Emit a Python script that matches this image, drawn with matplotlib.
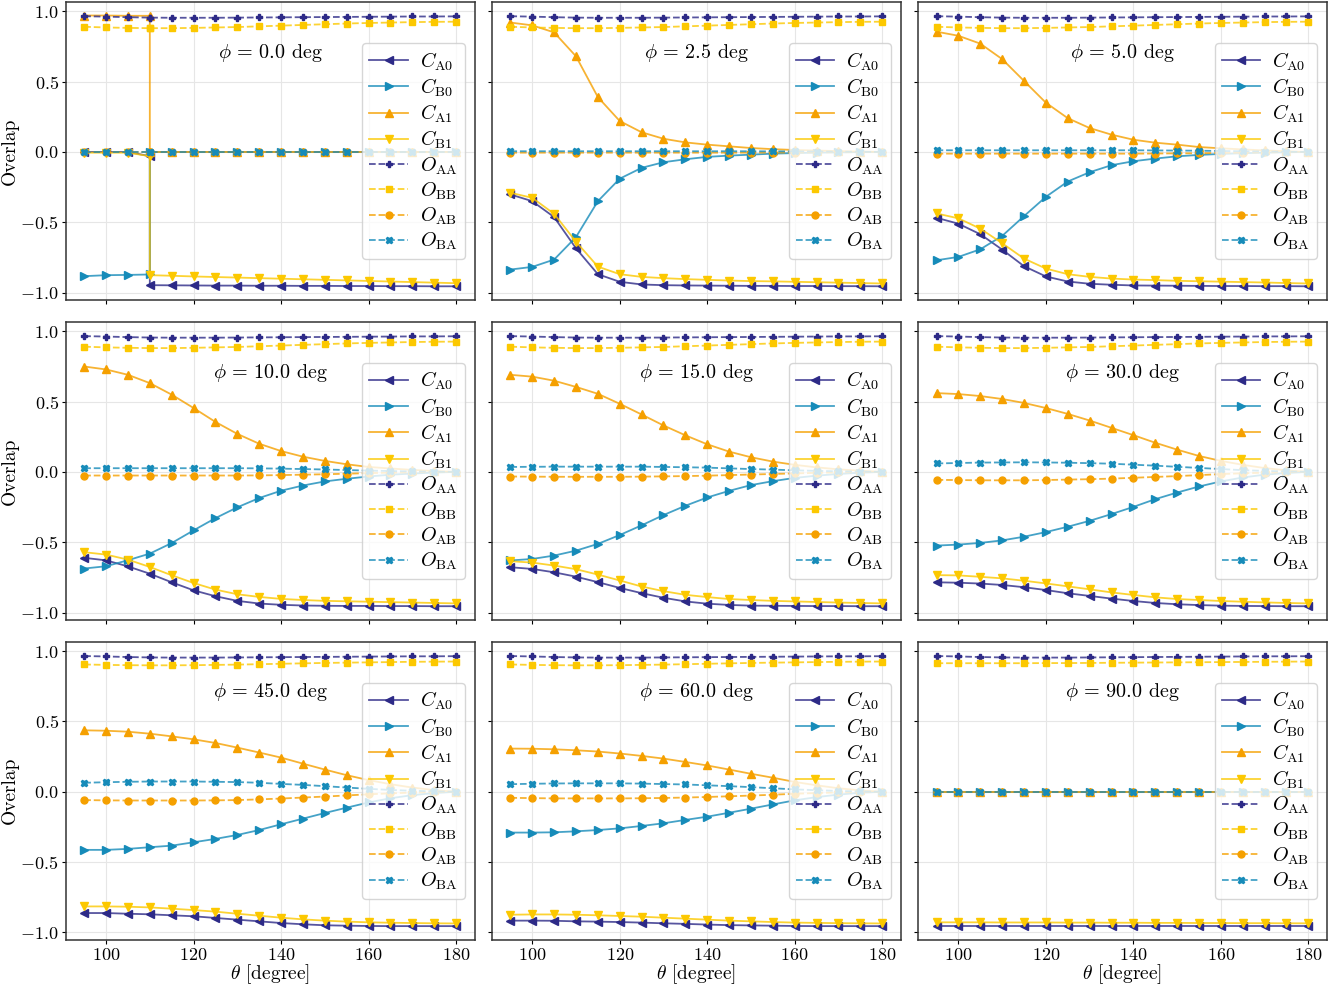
import numpy as np
import matplotlib
matplotlib.use("Agg")
import matplotlib.pyplot as plt
from matplotlib.colors import to_rgba

plt.rcParams.update({
    "font.family": "serif",
    "font.serif": ["cmr10"],
    "mathtext.fontset": "cm",
    "axes.formatter.use_mathtext": True,
    "font.size": 13,
})

theta = [95, 100, 105, 110, 115, 120, 125, 130, 135, 140, 145, 150, 155, 160, 165, 170, 175, 180]
# phi = 0 has two points at theta = 110 (state swap)
theta_p00 = [95, 100, 105, 110, 110, 115, 120, 125, 130, 135, 140, 145, 150, 155, 160, 165, 170, 175, 180]

o_aa = [0.965, 0.962, 0.958, 0.955, 0.954, 0.954, 0.954, 0.955, 0.956, 0.957, 0.958, 0.959, 0.960, 0.961, 0.962, 0.963, 0.963, 0.964]
o_bb = [0.890, 0.885, 0.882, 0.880, 0.880, 0.882, 0.885, 0.888, 0.893, 0.898, 0.903, 0.908, 0.913, 0.917, 0.920, 0.923, 0.925, 0.926]
o_bb_hi = [0.905, 0.902, 0.900, 0.899, 0.899, 0.900, 0.902, 0.904, 0.907, 0.910, 0.913, 0.916, 0.918, 0.920, 0.922, 0.924, 0.925, 0.926]
o_bb_90 = [0.914, 0.914, 0.914, 0.914, 0.914, 0.915, 0.915, 0.916, 0.917, 0.918, 0.919, 0.920, 0.921, 0.922, 0.923, 0.924, 0.925, 0.926]
zeros = [0.0] * 18

# phi = 0.0
ca0_p00 = [0.0, 0.0, 0.0, -0.03, -0.947, -0.948, -0.949, -0.950, -0.950, -0.951, -0.951, -0.952, -0.952, -0.953, -0.953, -0.954, -0.954, -0.955, -0.955]
cb0_p00 = [-0.883, -0.876, -0.874, -0.871, 0.0, 0.0, 0.0, 0.0, 0.0, 0.0, 0.0, 0.0, 0.0, 0.0, 0.0, 0.0, 0.0, 0.0, 0.0]
ca1_p00 = [0.970, 0.970, 0.968, 0.968, 0.0, 0.0, 0.0, 0.0, 0.0, 0.0, 0.0, 0.0, 0.0, 0.0, 0.0, 0.0, 0.0, 0.0, 0.0]
cb1_p00 = [-0.005, -0.005, -0.005, -0.03, -0.876, -0.880, -0.885, -0.889, -0.893, -0.897, -0.901, -0.905, -0.909, -0.913, -0.917, -0.921, -0.925, -0.929, -0.933]
oaa_p00 = [0.965, 0.962, 0.958, 0.955, 0.955, 0.954, 0.954, 0.954, 0.955, 0.956, 0.957, 0.958, 0.959, 0.960, 0.961, 0.962, 0.963, 0.963, 0.964]
obb_p00 = [0.890, 0.885, 0.882, 0.880, 0.880, 0.880, 0.882, 0.885, 0.888, 0.893, 0.898, 0.903, 0.908, 0.913, 0.917, 0.920, 0.923, 0.925, 0.926]
oab_p00 = [0.0] * 19
oba_p00 = [0.0] * 19

# phi = 2.5
ca0_p25 = [-0.302, -0.350, -0.463, -0.685, -0.869, -0.923, -0.942, -0.947, -0.949, -0.950, -0.951, -0.952, -0.952, -0.953, -0.953, -0.954, -0.954, -0.955]
cb0_p25 = [-0.836, -0.817, -0.765, -0.605, -0.350, -0.190, -0.113, -0.073, -0.052, -0.035, -0.026, -0.019, -0.012, -0.008, -0.005, -0.003, -0.001, 0.0]
ca1_p25 = [0.920, 0.900, 0.850, 0.680, 0.390, 0.220, 0.140, 0.094, 0.068, 0.052, 0.040, 0.028, 0.020, 0.014, 0.010, 0.006, 0.003, 0.0]
cb1_p25 = [-0.290, -0.326, -0.440, -0.638, -0.815, -0.869, -0.888, -0.897, -0.904, -0.909, -0.914, -0.918, -0.920, -0.923, -0.926, -0.929, -0.932, -0.935]
oab_p25 = [-0.005] * 12 + [-0.004, -0.004, -0.003, -0.002, -0.001, 0.0]
oba_p25 = [0.005] * 12 + [0.004, 0.004, 0.003, 0.002, 0.001, 0.0]

# phi = 5.0
ca0_p50 = [-0.468, -0.510, -0.585, -0.694, -0.812, -0.885, -0.921, -0.937, -0.944, -0.949, -0.950, -0.951, -0.952, -0.953, -0.953, -0.954, -0.954, -0.955]
cb0_p50 = [-0.770, -0.746, -0.692, -0.597, -0.456, -0.319, -0.210, -0.144, -0.094, -0.066, -0.047, -0.031, -0.021, -0.014, -0.009, -0.005, -0.002, 0.0]
ca1_p50 = [0.855, 0.826, 0.770, 0.660, 0.505, 0.350, 0.240, 0.170, 0.123, 0.087, 0.066, 0.052, 0.035, 0.026, 0.018, 0.011, 0.005, 0.0]
cb1_p50 = [-0.437, -0.472, -0.545, -0.649, -0.758, -0.829, -0.869, -0.888, -0.900, -0.907, -0.911, -0.916, -0.919, -0.922, -0.925, -0.928, -0.932, -0.935]
oab_p50 = [-0.012] * 10 + [-0.011, -0.010, -0.009, -0.007, -0.005, -0.003, -0.001, 0.0]
oba_p50 = [0.012] * 10 + [0.011, 0.010, 0.009, 0.007, 0.005, 0.003, 0.001, 0.0]

# phi = 10.0
ca0_p10 = [-0.611, -0.629, -0.672, -0.724, -0.785, -0.842, -0.884, -0.917, -0.936, -0.945, -0.950, -0.952, -0.953, -0.953, -0.954, -0.954, -0.955, -0.955]
cb0_p10 = [-0.687, -0.671, -0.628, -0.581, -0.506, -0.416, -0.329, -0.252, -0.186, -0.134, -0.097, -0.068, -0.049, -0.033, -0.020, -0.012, -0.005, 0.0]
ca1_p10 = [0.749, 0.728, 0.690, 0.631, 0.549, 0.454, 0.355, 0.270, 0.200, 0.148, 0.108, 0.078, 0.054, 0.035, 0.024, 0.014, 0.006, 0.0]
cb1_p10 = [-0.571, -0.588, -0.624, -0.676, -0.735, -0.790, -0.837, -0.870, -0.889, -0.903, -0.911, -0.917, -0.920, -0.923, -0.926, -0.929, -0.932, -0.935]
oab_p10 = [-0.026] * 8 + [-0.025, -0.023, -0.020, -0.017, -0.013, -0.009, -0.006, -0.003, -0.001, 0.0]
oba_p10 = [0.026] * 8 + [0.025, 0.023, 0.020, 0.017, 0.013, 0.009, 0.006, 0.003, 0.001, 0.0]

# phi = 15.0
ca0_p15 = [-0.678, -0.690, -0.714, -0.745, -0.784, -0.825, -0.862, -0.895, -0.921, -0.937, -0.946, -0.951, -0.952, -0.953, -0.954, -0.954, -0.955, -0.955]
cb0_p15 = [-0.630, -0.619, -0.595, -0.560, -0.512, -0.449, -0.380, -0.307, -0.241, -0.182, -0.135, -0.094, -0.066, -0.043, -0.027, -0.015, -0.006, 0.0]
ca1_p15 = [0.690, 0.677, 0.648, 0.604, 0.555, 0.484, 0.408, 0.330, 0.260, 0.196, 0.144, 0.104, 0.073, 0.050, 0.032, 0.018, 0.008, 0.0]
cb1_p15 = [-0.635, -0.645, -0.666, -0.692, -0.730, -0.772, -0.815, -0.848, -0.874, -0.890, -0.904, -0.911, -0.917, -0.921, -0.925, -0.929, -0.932, -0.935]
oab_p15 = [-0.033, -0.034, -0.035, -0.035, -0.035, -0.035, -0.034, -0.032, -0.030, -0.027, -0.023, -0.019, -0.015, -0.011, -0.007, -0.004, -0.002, 0.0]
oba_p15 = [0.035, 0.036, 0.037, 0.037, 0.037, 0.037, 0.037, 0.035, 0.033, 0.030, 0.025, 0.020, 0.016, 0.011, 0.007, 0.004, 0.002, 0.0]

# phi = 30.0
ca0_p30 = [-0.785, -0.788, -0.794, -0.804, -0.820, -0.840, -0.863, -0.882, -0.901, -0.918, -0.932, -0.941, -0.947, -0.951, -0.953, -0.954, -0.955, -0.955]
cb0_p30 = [-0.524, -0.517, -0.505, -0.487, -0.461, -0.428, -0.390, -0.348, -0.300, -0.249, -0.194, -0.147, -0.104, -0.068, -0.040, -0.020, -0.008, 0.0]
ca1_p30 = [0.560, 0.553, 0.539, 0.518, 0.490, 0.454, 0.412, 0.365, 0.313, 0.261, 0.207, 0.158, 0.113, 0.078, 0.050, 0.027, 0.011, 0.0]
cb1_p30 = [-0.734, -0.736, -0.746, -0.757, -0.774, -0.793, -0.814, -0.835, -0.857, -0.875, -0.892, -0.904, -0.911, -0.918, -0.923, -0.928, -0.932, -0.935]
oab_p30 = [-0.057, -0.058, -0.060, -0.060, -0.060, -0.058, -0.055, -0.052, -0.048, -0.042, -0.036, -0.030, -0.023, -0.016, -0.010, -0.006, -0.002, 0.0]
oba_p30 = [0.060, 0.063, 0.066, 0.067, 0.068, 0.067, 0.065, 0.062, 0.058, 0.051, 0.044, 0.036, 0.028, 0.020, 0.012, 0.007, 0.003, 0.0]

# phi = 45.0
ca0_p45 = [-0.862, -0.862, -0.867, -0.871, -0.878, -0.885, -0.897, -0.909, -0.921, -0.933, -0.942, -0.949, -0.952, -0.954, -0.955, -0.955, -0.955, -0.955]
cb0_p45 = [-0.413, -0.413, -0.406, -0.394, -0.383, -0.359, -0.335, -0.307, -0.272, -0.231, -0.191, -0.151, -0.113, -0.076, -0.046, -0.024, -0.009, 0.0]
ca1_p45 = [0.437, 0.434, 0.427, 0.413, 0.394, 0.373, 0.347, 0.314, 0.279, 0.243, 0.200, 0.158, 0.118, 0.083, 0.054, 0.030, 0.012, 0.0]
cb1_p45 = [-0.815, -0.815, -0.817, -0.822, -0.831, -0.841, -0.852, -0.867, -0.881, -0.895, -0.907, -0.916, -0.923, -0.928, -0.931, -0.933, -0.935, -0.936]
oab_p45 = [-0.059, -0.061, -0.062, -0.062, -0.062, -0.062, -0.061, -0.059, -0.054, -0.048, -0.041, -0.034, -0.026, -0.018, -0.011, -0.006, -0.002, 0.0]
oba_p45 = [0.064, 0.068, 0.071, 0.073, 0.073, 0.073, 0.071, 0.069, 0.064, 0.056, 0.049, 0.040, 0.030, 0.021, 0.013, 0.007, 0.003, 0.0]

# phi = 60.0
ca0_p60 = [-0.916, -0.916, -0.917, -0.921, -0.923, -0.926, -0.930, -0.935, -0.939, -0.944, -0.948, -0.950, -0.952, -0.954, -0.955, -0.955, -0.955, -0.955]
cb0_p60 = [-0.290, -0.290, -0.288, -0.281, -0.272, -0.260, -0.243, -0.224, -0.200, -0.177, -0.149, -0.120, -0.090, -0.061, -0.038, -0.020, -0.007, 0.0]
ca1_p60 = [0.307, 0.306, 0.302, 0.295, 0.286, 0.272, 0.255, 0.236, 0.212, 0.187, 0.158, 0.128, 0.100, 0.070, 0.046, 0.025, 0.010, 0.0]
cb1_p60 = [-0.874, -0.872, -0.872, -0.874, -0.878, -0.883, -0.888, -0.895, -0.902, -0.909, -0.916, -0.921, -0.926, -0.930, -0.932, -0.934, -0.935, -0.936]
oab_p60 = [-0.043, -0.045, -0.047, -0.047, -0.047, -0.047, -0.046, -0.044, -0.041, -0.037, -0.032, -0.027, -0.021, -0.014, -0.009, -0.005, -0.002, 0.0]
oba_p60 = [0.054, 0.057, 0.059, 0.060, 0.060, 0.060, 0.058, 0.055, 0.052, 0.046, 0.040, 0.033, 0.025, 0.017, 0.011, 0.006, 0.002, 0.0]

# phi = 90.0
ca0_p90 = [-0.955] * 18
cb1_p90 = [-0.928, -0.928, -0.928, -0.929, -0.929, -0.929, -0.930, -0.930, -0.931, -0.931, -0.932, -0.932, -0.933, -0.933, -0.934, -0.934, -0.935, -0.935]

phis = [0.0, 2.5, 5.0, 10.0, 15.0, 30.0, 45.0, 60.0, 90.0]
panels = [
    (theta_p00, [ca0_p00, cb0_p00, ca1_p00, cb1_p00, oaa_p00, obb_p00, oab_p00, oba_p00]),
    (theta, [ca0_p25, cb0_p25, ca1_p25, cb1_p25, o_aa, o_bb, oab_p25, oba_p25]),
    (theta, [ca0_p50, cb0_p50, ca1_p50, cb1_p50, o_aa, o_bb, oab_p50, oba_p50]),
    (theta, [ca0_p10, cb0_p10, ca1_p10, cb1_p10, o_aa, o_bb, oab_p10, oba_p10]),
    (theta, [ca0_p15, cb0_p15, ca1_p15, cb1_p15, o_aa, o_bb, oab_p15, oba_p15]),
    (theta, [ca0_p30, cb0_p30, ca1_p30, cb1_p30, o_aa, o_bb, oab_p30, oba_p30]),
    (theta, [ca0_p45, cb0_p45, ca1_p45, cb1_p45, o_aa, o_bb_hi, oab_p45, oba_p45]),
    (theta, [ca0_p60, cb0_p60, ca1_p60, cb1_p60, o_aa, o_bb_hi, oab_p60, oba_p60]),
    (theta, [ca0_p90, zeros, zeros, cb1_p90, o_aa, o_bb_90, zeros, zeros]),
]

labels = [r'$C_{\mathrm{A0}}$', r'$C_{\mathrm{B0}}$', r'$C_{\mathrm{A1}}$', r'$C_{\mathrm{B1}}$',
          r'$O_{\mathrm{AA}}$', r'$O_{\mathrm{BB}}$', r'$O_{\mathrm{AB}}$', r'$O_{\mathrm{BA}}$']
navy, teal, orange, yellow = '#2d2a87', '#168bb9', '#f5a000', '#fcc800'
colors = [navy, teal, orange, yellow, navy, yellow, orange, teal]
markers = ['<', '>', '^', 'v', 'P', 's', 'o', 'X']
sizes = [5.5, 5.5, 5.5, 5.5, 5, 5, 5, 5]
styles = ['-', '-', '-', '-', '--', '--', '--', '--']

fig, axes = plt.subplots(3, 3, figsize=(13.39, 9.86), dpi=100, sharex=True, sharey=True)
fig.subplots_adjust(left=0.049, right=0.991, top=0.998, bottom=0.047, wspace=0.042, hspace=0.074)

for ax, phi, (th, series) in zip(axes.flat, phis, panels):
    for y, lab, c, m, s, ls in zip(series, labels, colors, markers, sizes, styles):
        ax.plot(th, y, ls=ls, marker=m, color=to_rgba(c, 0.8), mfc=c, mec=c,
                ms=s, lw=1.3, label=lab)
    ax.text(0.5, 0.83, r'$\phi\,=\,%.1f$ deg' % phi, transform=ax.transAxes,
            ha='center', va='center', fontsize=14.5)
    ax.grid(True, color='#e6e6e6', lw=0.8)
    ax.set_axisbelow(True)
    for sp in ax.spines.values():
        sp.set_color('#333333')
        sp.set_linewidth(1.1)
    ax.tick_params(length=3, width=0.8, labelsize=13, pad=2)
    ax.legend(loc='upper right', bbox_to_anchor=(0.976, 0.862), borderaxespad=0,
              fontsize=14.5, framealpha=0.8, edgecolor='#cccccc', borderpad=0.35,
              labelspacing=0.19, handlelength=1.9, handletextpad=0.6)

ax0 = axes[0, 0]
ax0.set_xticks([100, 120, 140, 160, 180])
ax0.set_yticks([-1.0, -0.5, 0.0, 0.5, 1.0])
for ax in axes[:, 0]:
    ax.set_ylabel('Overlap', fontsize=14, labelpad=1)
for ax in axes[-1, :]:
    ax.set_xlabel(r'$\theta$ [degree]', fontsize=14, labelpad=0)

fig.savefig('out.png', dpi=100)
